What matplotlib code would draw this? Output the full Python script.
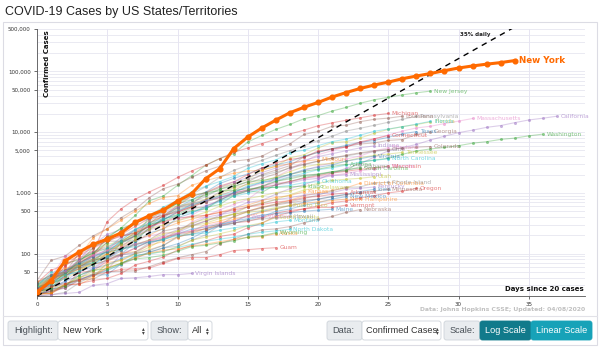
import matplotlib.pyplot as plt
from matplotlib.patches import FancyBboxPatch, Rectangle
from matplotlib.ticker import FixedLocator, NullFormatter, LogLocator

# cumulative confirmed cases, one value per day since the 20th case
states = ["New York", "New Jersey", "Michigan", "Louisiana", "Pennsylvania", "Florida",
          "Massachusetts", "California", "Washington", "Georgia", "Illinois", "Texas",
          "Connecticut", "Indiana", "Maryland", "Ohio", "Colorado", "Tennessee",
          "North Carolina", "Wisconsin", "Nevada", "Missouri", "Arizona", "Alabama",
          "South Carolina", "Virginia", "Mississippi", "Utah", "Oklahoma",
          "District of Columbia", "Rhode Island", "Idaho", "Kentucky", "Minnesota",
          "Oregon", "Delaware", "Kansas", "Iowa", "Arkansas", "New Mexico",
          "New Hampshire", "Vermont", "Puerto Rico", "Nebraska", "Maine", "West Virginia",
          "South Dakota", "Hawaii", "Montana", "North Dakota", "Alaska", "Wyoming",
          "Guam", "Virgin Islands"]

cases = [
    [23, 36, 76, 106, 142, 173, 220, 328, 421, 525, 732, 967, 1706, 2495, 5365, 8310, 11710,
     15800, 20884, 25681, 30841, 37877, 44876, 52410, 59648, 66663, 75833, 83948, 92506,
     102987, 113833, 123160, 131815, 139875, 151061],
    [23, 29, 50, 69, 98, 178, 267, 427, 742, 890, 1327, 1914, 2844, 3675, 4402, 6876, 8825,
     11124, 13386, 16636, 18696, 22255, 25590, 29895, 34124, 37505, 41090, 44416, 47437],
    [33, 53, 65, 83, 110, 336, 549, 787, 1037, 1329, 1793, 2296, 2845, 3657, 4650, 5488, 6498,
     7615, 9315, 10791, 12744, 14225, 15718, 17221, 18970, 20346],
    [36, 77, 91, 136, 196, 257, 392, 538, 837, 1172, 1388, 1795, 2304, 2744, 3315, 3540, 4025,
     5237, 6424, 9150, 10297, 12496, 13010, 14867, 16284, 17030, 18283],
    [22, 41, 47, 66, 77, 112, 152, 206, 303, 495, 693, 946, 1260, 1795, 2345, 2845, 3432, 4155,
     4963, 6009, 7268, 8570, 10444, 11589, 12980, 14559, 16239, 18228],
    [28, 35, 50, 76, 100, 141, 160, 216, 314, 417, 563, 659, 1004, 1227, 1412, 1682, 2355, 2765,
     3763, 4246, 5473, 6741, 6956, 8010, 9585, 11111, 12350, 13324, 14747],
    [28, 41, 92, 95, 108, 123, 138, 164, 197, 218, 218, 328, 413, 525, 646, 777, 1159, 1838,
     2417, 3240, 4257, 4955, 5752, 6620, 7738, 8966, 10402, 11736, 12500, 13837, 15202, 16790],
    [21, 25, 35, 51, 59, 81, 95, 101, 144, 178, 221, 282, 340, 426, 557, 698, 751, 952, 1177,
     1364, 1646, 2108, 2538, 2998, 3899, 4914, 5565, 6266, 7425, 8582, 9816, 10773, 12004,
     12837, 14336, 15865, 16957, 18309],
    [27, 39, 70, 78, 102, 122, 122, 162, 267, 366, 442, 568, 572, 643, 904, 1076, 1014, 1376,
     1524, 1793, 1996, 2221, 2328, 3207, 3477, 3700, 4310, 4896, 5292, 5588, 5984, 6585, 6966,
     7591, 7984, 8682, 9276],
    [22, 31, 42, 64, 66, 99, 146, 199, 287, 420, 507, 600, 772, 1026, 1247, 1525, 2000, 2366,
     2808, 3929, 4638, 5348, 5831, 6383, 6647, 7314, 7558, 9156, 10189],
    [25, 32, 46, 64, 93, 105, 161, 162, 422, 585, 753, 1049, 1285, 1537, 1865, 2538, 3024, 3491,
     4596, 5057, 5994, 6980, 7695, 8904, 10357, 11256, 12262, 13549, 15078],
    [21, 27, 43, 57, 72, 85, 110, 173, 260, 394, 581, 758, 1031, 1424, 1731, 2052, 2552, 2877,
     3266, 3997, 4669, 5330, 6110, 6812, 7276, 8262, 9353, 10230],
    [24, 26, 41, 68, 96, 194, 194, 223, 327, 415, 618, 875, 1012, 1291, 1524, 1993, 2571, 3128,
     3557, 3824, 4914, 5276, 5675, 6906, 7781, 8781],
    [20, 25, 30, 39, 56, 79, 126, 201, 259, 365, 477, 645, 981, 1232, 1513, 1786, 2159, 2565,
     3039, 3437, 3953, 4411, 4944, 5507, 5943],
    [26, 32, 41, 60, 85, 107, 149, 193, 244, 288, 349, 423, 580, 775, 995, 1239, 1413, 1660,
     1985, 2331, 2758, 3125, 3609, 4045, 4900, 5529],
    [26, 37, 50, 67, 88, 119, 169, 247, 351, 442, 564, 704, 867, 1137, 1406, 1653, 1933, 2199,
     2547, 2902, 3312, 3739, 4043, 4450, 4782, 5148],
    [33, 45, 49, 101, 131, 160, 160, 216, 277, 363, 475, 591, 720, 912, 1086, 1430, 1734, 2061,
     2627, 2966, 3342, 3728, 4173, 4565, 4950, 5172, 5429, 5655, 5800],
    [26, 32, 39, 52, 73, 98, 154, 228, 371, 505, 615, 667, 784, 957, 1203, 1373, 1537, 1834,
     2239, 2683, 2933, 3067, 3321, 3802, 4138, 4362, 4634],
    [23, 33, 38, 64, 70, 123, 184, 254, 302, 353, 504, 636, 738, 887, 1020, 1313, 1498, 1584,
     1857, 2093, 2402, 2585, 2870, 3221, 3426, 3651],
    [27, 33, 47, 72, 92, 155, 206, 281, 381, 425, 481, 585, 707, 842, 989, 1112, 1230, 1351,
     1556, 1730, 1916, 2112, 2267, 2440, 2578, 2756],
    [24, 45, 55, 55, 95, 109, 190, 245, 278, 321, 420, 535, 621, 738, 1008, 1113, 1279, 1458,
     1514, 1742, 1836, 1953, 2087, 2318, 2456, 2700],
    [22, 28, 74, 90, 183, 255, 356, 502, 670, 838, 903, 1327, 1581, 1834, 2113, 2291, 2367,
     2722, 3037, 3327, 3539],
    [20, 27, 45, 78, 104, 152, 235, 326, 401, 508, 665, 773, 919, 1157, 1289, 1530, 1598, 1769,
     2019, 2269, 2456, 2726, 2953],
    [29, 39, 51, 78, 106, 131, 157, 196, 242, 386, 538, 639, 720, 830, 987, 1108, 1270, 1535,
     1796, 1968, 2006, 2169, 2328, 2703],
    [28, 33, 47, 60, 81, 81, 152, 195, 298, 342, 424, 507, 539, 774, 925, 1083, 1293, 1554,
     1700, 1917, 2049, 2232, 2417, 2552],
    [30, 41, 45, 49, 67, 77, 99, 152, 219, 254, 391, 460, 604, 739, 1020, 1250, 1484, 1706,
     2012, 2407, 2640, 2878, 3333, 3645, 4042],
    [21, 34, 50, 80, 140, 207, 249, 320, 377, 485, 579, 663, 758, 847, 937, 1073, 1177, 1358,
     1455, 1638, 1738, 1915, 2003],
    [28, 39, 51, 63, 78, 112, 136, 181, 257, 298, 346, 402, 480, 602, 719, 806, 887, 1012, 1074,
     1255, 1428, 1605, 1675, 1738, 1846],
    [29, 49, 53, 67, 81, 106, 164, 248, 322, 377, 429, 481, 565, 719, 879, 988, 1159, 1252,
     1327, 1472, 1524],
    [22, 22, 31, 31, 40, 71, 77, 98, 116, 137, 183, 231, 304, 342, 401, 495, 586, 653, 757, 902,
     998, 1097, 1211, 1440],
    [20, 21, 23, 33, 44, 54, 66, 83, 106, 124, 132, 165, 203, 294, 408, 488, 566, 657, 711, 806,
     922, 1082, 1229, 1252, 1450, 1491],
    [31, 42, 50, 73, 123, 189, 261, 310, 415, 525, 669, 891, 1013, 1078, 1101, 1170, 1210, 1232,
     1260, 1290],
    [21, 26, 27, 36, 47, 54, 99, 124, 163, 197, 248, 302, 394, 439, 480, 591, 680, 770, 831, 917,
     955, 1008, 1149, 1190, 1250],
    [21, 35, 54, 60, 77, 89, 115, 137, 169, 235, 262, 287, 346, 398, 441, 503, 576, 629, 689,
     742, 789, 865, 935, 986, 1069, 1154],
    [21, 24, 30, 32, 36, 39, 47, 65, 75, 88, 114, 137, 161, 191, 209, 266, 316, 414, 479, 548,
     606, 690, 736, 826, 899, 999, 1068, 1181],
    [30, 39, 45, 56, 68, 104, 119, 143, 165, 214, 232, 319, 368, 393, 450, 593, 673, 783, 928,
     1116, 1209],
    [34, 44, 57, 65, 82, 98, 126, 168, 202, 261, 319, 368, 428, 482, 552, 629, 747, 845, 900,
     1046],
    [22, 23, 29, 38, 44, 45, 68, 90, 105, 124, 145, 179, 235, 298, 336, 424, 497, 549, 614, 699,
     786, 868, 946, 1048, 1145],
    [22, 33, 62, 96, 122, 165, 192, 219, 280, 335, 381, 409, 426, 473, 523, 584, 643, 704, 743,
     837, 875, 946, 997],
    [23, 28, 35, 43, 57, 65, 83, 100, 112, 136, 191, 208, 237, 281, 315, 363, 403, 495, 543, 624,
     686, 794, 865],
    [26, 39, 44, 55, 65, 78, 101, 108, 137, 158, 187, 214, 258, 314, 367, 415, 479, 540, 621,
     669, 715, 747, 788],
    [22, 22, 29, 49, 52, 75, 95, 123, 158, 184, 211, 235, 256, 293, 321, 338, 389, 461, 512, 543,
     575, 575, 628],
    [21, 23, 31, 39, 51, 64, 79, 100, 127, 174, 239, 286, 316, 378, 452, 475, 513, 573, 620],
    [21, 24, 27, 37, 38, 50, 51, 52, 61, 73, 85, 96, 108, 145, 172, 210, 246, 255, 279, 321, 367,
     409, 478, 530],
    [32, 44, 52, 70, 89, 107, 118, 142, 155, 168, 211, 253, 275, 303, 344, 376, 432, 456, 470,
     499, 519, 537],
    [20, 39, 51, 76, 96, 113, 126, 145, 162, 191, 217, 237, 282, 324, 345, 412],
    [21, 28, 30, 41, 46, 58, 68, 90, 101, 108, 129, 165, 187, 212, 240, 288, 320, 393],
    [26, 37, 48, 56, 77, 90, 95, 106, 151, 175, 204, 224, 258, 285, 319, 351, 371, 387, 410],
    [27, 31, 45, 51, 65, 90, 121, 129, 154, 171, 198, 208, 217, 243, 265, 286, 299, 332, 354],
    [28, 30, 32, 36, 45, 52, 68, 94, 98, 109, 126, 142, 159, 173, 186, 207, 225, 237, 251],
    [21, 22, 32, 36, 42, 59, 69, 85, 102, 114, 119, 133, 143, 157, 171, 185, 191, 213],
    [24, 26, 29, 44, 53, 56, 70, 82, 86, 94, 109, 130, 137, 150, 162, 187, 197, 221],
    [27, 29, 32, 37, 45, 49, 55, 56, 58, 69, 83, 86, 86, 96, 112, 116, 121, 125],
    [20, 21, 22, 23, 30, 32, 39, 40, 42, 45, 45, 47],
]

colors = ["#ff6a00", "#2ca02c", "#d62728", "#8c564b", "#7f7f7f", "#bcbd22",
          "#e377c2", "#9467bd", "#2ca02c", "#8c564b", "#17becf", "#1f77b4",
          "#d62728", "#9467bd", "#e377c2", "#7f7f7f", "#8c564b", "#bcbd22",
          "#17becf", "#d62728", "#e377c2", "#ff7f0e", "#2ca02c", "#7f7f7f",
          "#2ca02c", "#1f77b4", "#9467bd", "#bcbd22", "#17becf",
          "#ff7f0e", "#7f7f7f", "#2ca02c", "#9467bd", "#8c564b",
          "#d62728", "#bcbd22", "#ff7f0e", "#1f77b4", "#d62728", "#1f77b4",
          "#ff7f0e", "#d62728", "#bcbd22", "#8c564b", "#1f77b4", "#e377c2",
          "#bcbd22", "#7f7f7f", "#17becf", "#17becf", "#ff7f0e", "#2ca02c",
          "#d62728", "#9467bd"]

highlight = "New York"
daily_growth = 0.35
start_cases = 20
ref_days = [0, 36]

y_major = [50, 100, 500, 1000, 5000, 10000, 50000, 100000, 500000]
x_major = [0, 5, 10, 15, 20, 25, 30, 35]

W, H = 600, 347
fig = plt.figure(figsize=(W / 100, H / 100), dpi=100)

# background layer in pixel coords for the card and the control bar
bg = fig.add_axes([0, 0, 1, 1], zorder=0)
bg.set_xlim(0, W)
bg.set_ylim(H, 0)
bg.axis("off")
bg.add_patch(Rectangle((3, 22), 594, 323, facecolor="white", edgecolor="#dcdce4", lw=0.8))
bg.plot([3, 597], [316, 316], color="#e2e2e8", lw=0.8)
bg.text(5, 12, "COVID-19 Cases by US States/Territories", fontsize=9.0,
        family="Liberation Sans", va="center", ha="left", color="#222")


def box(x0, x1, face, edge="#ced4da"):
    bg.add_patch(FancyBboxPatch((x0, 321), x1 - x0, 19, boxstyle="round,pad=0,rounding_size=2.5",
                                facecolor=face, edgecolor=edge, lw=0.6))


def arrows(x):
    bg.text(x, 328.5, "\u25b4", fontsize=4, ha="center", va="center", color="#444")
    bg.text(x, 333, "\u25be", fontsize=4, ha="center", va="center", color="#444")


ctl_font = dict(fontsize=6.6, family="Liberation Sans", va="center")
box(8, 58, "#e9ecef")
bg.text(14, 330.5, "Highlight:", color="#495057", **ctl_font)
box(58, 148, "white")
bg.text(63, 330.5, highlight, color="#333", **ctl_font)
arrows(143)
box(151, 188, "#e9ecef")
bg.text(157, 330.5, "Show:", color="#495057", **ctl_font)
box(188, 212, "white")
bg.text(192, 330.5, "All", color="#333", **ctl_font)
arrows(207)
box(327, 362, "#e9ecef")
bg.text(332, 330.5, "Data:", color="#495057", **ctl_font)
box(362, 441, "white")
bg.text(366, 330.5, "Confirmed Cases", color="#333", **ctl_font)
arrows(437)
box(444, 480, "#e9ecef")
bg.text(450, 330.5, "Scale:", color="#495057", **ctl_font)
box(480, 531, "#117a8b", edge="#117a8b")
bg.text(505.5, 330.5, "Log Scale", color="white", ha="center", fontsize=6.6,
        family="Liberation Sans", va="center")
box(531, 592, "#17a2b8", edge="#17a2b8")
bg.text(561.5, 330.5, "Linear Scale", color="white", ha="center", fontsize=6.6,
        family="Liberation Sans", va="center")

# main log-scale chart
ax = fig.add_axes([37 / W, 1 - 296 / H, (585 - 37) / W, (296 - 29) / H], zorder=1)
ax.set_yscale("log")
ax.set_xlim(0, 39)
ax.set_ylim(20, 500000)

for name, vals, c in zip(states, cases, colors):
    days = list(range(len(vals)))
    if name == highlight:
        continue
    ax.plot(days, vals, color=c, lw=0.8, alpha=0.32, zorder=2)
    ax.plot(days, vals, "o", color=c, ms=2.2, mew=0, alpha=0.5, zorder=2)
    ax.annotate(name, (days[-1], vals[-1]), xytext=(2.5, 0), textcoords="offset points",
                fontsize=4.3, color=c, alpha=0.6, va="center", ha="left", zorder=3)

# highlighted state drawn on top
hi = states.index(highlight)
hv = cases[hi]
hd = list(range(len(hv)))
ax.plot(hd, hv, color=colors[hi], lw=2.2, marker="o", ms=3.4, zorder=5)
ax.annotate(highlight, (hd[-1], hv[-1]), xytext=(3, 0), textcoords="offset points",
            fontsize=6.3, color=colors[hi], fontweight="bold", va="center", ha="left", zorder=6)

# 35% daily growth reference (straight on a log axis)
ref_vals = [start_cases * (1 + daily_growth) ** d for d in ref_days]
ax.plot(ref_days, ref_vals, color="black", lw=1.0, dashes=(4, 3.5), zorder=4)
ax.text(32.3, 400000, "35% daily", fontsize=4, fontweight="bold", ha="right", va="center",
        color="#222", zorder=6)

# grid and ticks
ax.yaxis.set_major_locator(FixedLocator(y_major))
ax.yaxis.set_minor_locator(LogLocator(base=10, subs=range(1, 10)))
ax.yaxis.set_minor_formatter(NullFormatter())
ax.set_yticklabels([f"{v:,}" for v in y_major])
ax.set_xticks(x_major)
ax.grid(True, which="both", axis="y", color="#e6e6f0", lw=0.6, zorder=0)
ax.grid(True, which="major", axis="x", color="#e3e1f0", lw=0.6, zorder=0)
ax.tick_params(axis="both", which="major", labelsize=4, length=2.5, width=0.5,
               colors="#333", pad=2)
ax.tick_params(axis="y", which="minor", length=0)
for s in ["top", "right"]:
    ax.spines[s].set_visible(False)
for s in ["left", "bottom"]:
    ax.spines[s].set_color("#555")
    ax.spines[s].set_linewidth(0.6)

ax.text(0.012, 0.995, "Confirmed Cases", transform=ax.transAxes, rotation=90, ha="left",
        va="top", fontsize=5, fontweight="bold", color="#111")
ax.text(0.997, 0.015, "Days since 20 cases", transform=ax.transAxes, ha="right",
        va="bottom", fontsize=5, fontweight="bold", color="#111")
bg.text(585, 310, "Data: Johns Hopkins CSSE; Updated: 04/08/2020", ha="right", va="center",
        fontsize=4.4, fontweight="bold", color="#c0c0c0")

fig.savefig("out.png", dpi=100)
